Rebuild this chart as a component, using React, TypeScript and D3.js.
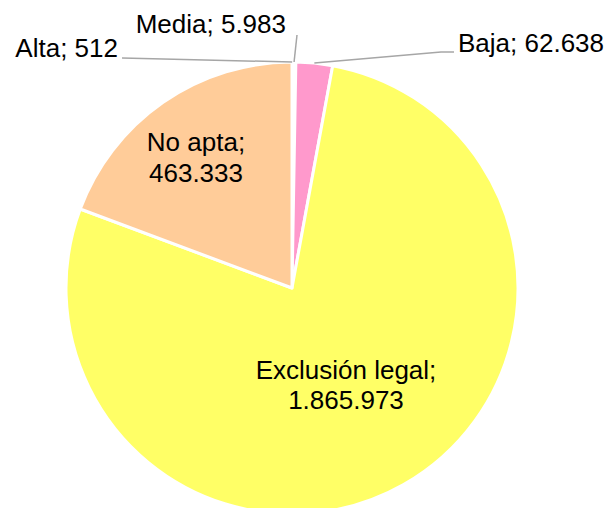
import React from "react";
import * as d3 from "d3";

const categories = ["Alta", "Media", "Baja", "Exclusión legal", "No apta"];
const values = [512, 5983, 62638, 1865973, 463333];
const colors = ["#FFFFFF", "#FFFFFF", "#FF99CC", "#FFFF66", "#FFCC99"];

const W = 612;
const H = 508;
const CX = 292;
const CY = 288;
const R = 226;
const FONT = "'Liberation Sans', Arial, sans-serif";
const FS = 26;

const esLocale = d3.formatLocale({
  decimal: ",",
  thousands: ".",
  grouping: [3],
  currency: ["", ""],
});
const fmt = esLocale.format(",");

// label layout: type "outside" with leader line, or "inside" two-line
type LabelLayout =
  | { kind: "out"; x: number; y: number; anchor: string; leader: [number, number][] }
  | { kind: "in"; x: number; y: number; lh: number };

const layouts: LabelLayout[] = [
  { kind: "out", x: 118, y: 57, anchor: "end", leader: [[122, 58]] },
  { kind: "out", x: 286, y: 33, anchor: "end", leader: [[297, 35]] },
  { kind: "out", x: 458, y: 52, anchor: "start", leader: [[454, 52], [441, 52]] },
  { kind: "in", x: 346, y: 379, lh: 30 },
  { kind: "in", x: 196, y: 151, lh: 31 },
];

export default function App() {
  const pie = d3
    .pie<number>()
    .sort(null)
    .value((d) => d)
    .startAngle(0)
    .endAngle(2 * Math.PI);
  const arcs = pie(values);
  const arcGen = d3.arc<d3.PieArcDatum<number>>().innerRadius(0).outerRadius(R);

  return (
    <svg
      width={W}
      height={H}
      viewBox={`0 0 ${W} ${H}`}
      style={{ position: "absolute", left: 0, top: 0, background: "#fff" }}
    >
      <g transform={`translate(${CX},${CY})`}>
        {arcs.map((a, i) => (
          <path
            key={categories[i]}
            d={arcGen(a) || ""}
            fill={colors[i]}
            stroke="#FFFFFF"
            strokeWidth={3}
            strokeLinejoin="round"
          />
        ))}
      </g>
      {arcs.map((a, i) => {
        const L = layouts[i];
        const text = `${categories[i]}; ${fmt(values[i])}`;
        if (L.kind === "out") {
          const mid = (a.startAngle + a.endAngle) / 2;
          const px = CX + Math.sin(mid) * R;
          const py = CY - Math.cos(mid) * R;
          const pts: [number, number][] = [...L.leader, [px, py]];
          const line = d3.line()(pts) || "";
          return (
            <g key={"lab" + i}>
              <path d={line} fill="none" stroke="#A6A6A6" strokeWidth={1.5} />
              <text
                x={L.x}
                y={L.y}
                textAnchor={L.anchor}
                fontFamily={FONT}
                fontSize={FS}
                fill="#000"
              >
                {text}
              </text>
            </g>
          );
        }
        return (
          <text
            key={"lab" + i}
            x={L.x}
            y={L.y}
            textAnchor="middle"
            fontFamily={FONT}
            fontSize={FS}
            fill="#000"
          >
            <tspan x={L.x} y={L.y}>{`${categories[i]};`}</tspan>
            <tspan x={L.x} y={L.y + L.lh}>{fmt(values[i])}</tspan>
          </text>
        );
      })}
    </svg>
  );
}
